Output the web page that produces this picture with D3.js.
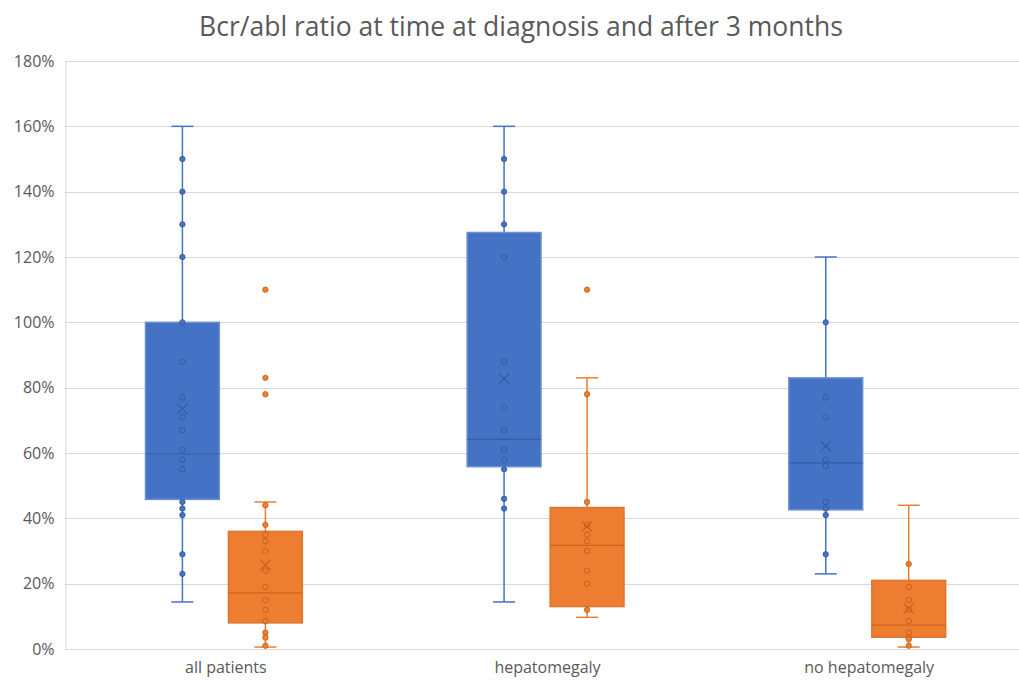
<!DOCTYPE html>
<html>
<head>
<meta charset="utf-8">
<script src="https://cdn.jsdelivr.net/npm/d3@7"></script>
<style>
  body { margin: 0; background: #fff; }
  svg { display: block; font-family: "Open Sans", "Liberation Sans", sans-serif; }
</style>
</head>
<body>
<div id="chart"></div>
<script>
// chart values (percent)
const categories = ["all patients", "hepatomegaly", "no hepatomegaly"];
const seriesNames = ["at diagnosis", "after 3 months"];
const yTicks = [0, 20, 40, 60, 80, 100, 120, 140, 160, 180];

// box statistics per category: [min, q1, median, q3, max]
const diagBox = [
  [14.4, 45.8, 59.7, 100, 160],
  [14.4, 55.8, 64.2, 127.5, 160],
  [23, 42.6, 57, 83, 120]
];
const monthBox = [
  [0.6, 8, 17.2, 36, 45],
  [9.7, 13, 31.7, 43.3, 83],
  [0.6, 3.6, 7.3, 21, 44]
];
const diagMean = [73.5, 82.8, 62.1];
const monthMean = [25.7, 37.5, 12.4];

// visible data points
const diagPoints = [
  [150, 140, 130, 120, 100, 88, 77, 71, 67, 61, 58, 55, 45, 43, 41, 29, 23],
  [150, 140, 130, 120, 88, 74, 67, 61, 58, 55, 46, 43],
  [100, 77, 71, 58, 56, 45, 43, 41, 29]
];
const monthPoints = [
  [110, 83, 78, 44, 38, 35, 33, 30, 24, 19, 15, 12, 8.5, 5, 3.5, 1],
  [110, 78, 45, 38, 35, 33, 30, 24, 20, 12],
  [26, 19, 15, 12, 8.5, 5, 3.5, 3, 1]
];

const width = 1019;
const height = 682;
const margin = { left: 65, right: -11, top: 61, bottom: 33 };

const styles = [
  { fill: "#4472c4", edge: "#6a8fd2", line: "#4472c4", dot: "#2f5597", mid: "#2f5597" },
  { fill: "#ed7d31", edge: "#e0742c", line: "#ed7d31", dot: "#c55a11", mid: "#c55a11" }
];

const svg = d3
  .select("#chart")
  .append("svg")
  .attr("width", width)
  .attr("height", height);

const x = d3
  .scaleBand()
  .domain(categories)
  .range([margin.left, width - margin.right]);

const bw = x.bandwidth();
const xs = d3
  .scaleBand()
  .domain(seriesNames)
  .range([bw * 0.236, bw * 0.752]);

const y = d3
  .scaleLinear()
  .domain([0, 180])
  .range([height - margin.bottom, margin.top]);

// gridlines
svg
  .append("g")
  .selectAll("line")
  .data(yTicks)
  .enter()
  .append("line")
  .attr("x1", margin.left)
  .attr("x2", width)
  .attr("y1", (d) => Math.round(y(d)) + 0.5)
  .attr("y2", (d) => Math.round(y(d)) + 0.5)
  .attr("stroke", "#d9d9d9")
  .attr("stroke-width", 1);

// y axis
const yAxis = svg
  .append("g")
  .attr("transform", `translate(${margin.left + 0.5},0)`)
  .call(
    d3.axisLeft(y)
      .tickValues(yTicks)
      .tickSize(0)
      .tickPadding(11)
      .tickFormat((d) => d + "%")
  )
  .attr("font-family", null);
yAxis.select(".domain").attr("stroke", "#d9d9d9");
yAxis
  .selectAll("text")
  .attr("fill", "#595959")
  .style("font-size", "16px");

// x axis labels
const xAxis = svg
  .append("g")
  .attr("transform", `translate(0,${height - margin.bottom})`)
  .call(d3.axisBottom(x).tickSize(0).tickPadding(13))
  .attr("font-family", null);
xAxis.select(".domain").remove();
xAxis
  .selectAll("text")
  .attr("fill", "#595959")
  .style("font-size", "16px");

// title
svg
  .append("text")
  .attr("x", 521)
  .attr("y", 36)
  .attr("text-anchor", "middle")
  .attr("fill", "#595959")
  .style("font-size", "26.5px")
  .text("Bcr/abl ratio at time at diagnosis and after 3 months");

const series = [
  { name: seriesNames[0], box: diagBox, mean: diagMean, points: diagPoints },
  { name: seriesNames[1], box: monthBox, mean: monthMean, points: monthPoints }
];

const boxW = xs.bandwidth() * 0.89;
const capW = 22;

series.forEach((s, si) => {
  const st = styles[si];
  categories.forEach((cat, ci) => {
    const [mn, q1, md, q3, mx] = s.box[ci];
    const cx = x(cat) + xs(s.name) + xs.bandwidth() / 2;
    const g = svg.append("g");

    // whiskers
    g.append("line")
      .attr("x1", cx).attr("x2", cx)
      .attr("y1", y(mx)).attr("y2", y(q3))
      .attr("stroke", st.line).attr("stroke-width", 1.5);
    g.append("line")
      .attr("x1", cx).attr("x2", cx)
      .attr("y1", y(q1)).attr("y2", y(mn))
      .attr("stroke", st.line).attr("stroke-width", 1.5);
    [mn, mx].forEach((v) => {
      g.append("line")
        .attr("x1", cx - capW / 2).attr("x2", cx + capW / 2)
        .attr("y1", y(v)).attr("y2", y(v))
        .attr("stroke", st.line).attr("stroke-width", 1.5);
    });

    // box
    g.append("rect")
      .attr("x", cx - boxW / 2)
      .attr("y", y(q3))
      .attr("width", boxW)
      .attr("height", y(q1) - y(q3))
      .attr("fill", st.fill)
      .attr("stroke", st.edge)
      .attr("stroke-width", 1.5);

    // median
    g.append("line")
      .attr("x1", cx - boxW / 2).attr("x2", cx + boxW / 2)
      .attr("y1", y(md)).attr("y2", y(md))
      .attr("stroke", st.mid).attr("stroke-opacity", 0.7).attr("stroke-width", 1.2);

    // points
    g.selectAll("circle")
      .data(s.points[ci])
      .enter()
      .append("circle")
      .attr("cx", cx)
      .attr("cy", (d) => y(d))
      .attr("r", 2.7)
      .attr("fill", st.fill)
      .attr("stroke", st.dot)
      .attr("stroke-opacity", 0.8)
      .attr("stroke-width", 1);

    // mean marker
    const my = y(s.mean[ci]);
    const m = 5;
    g.append("path")
      .attr("d", `M${cx - m},${my - m}L${cx + m},${my + m}M${cx - m},${my + m}L${cx + m},${my - m}`)
      .attr("stroke", st.mid)
      .attr("stroke-opacity", 0.8)
      .attr("stroke-width", 1.2)
      .attr("fill", "none");
  });
});
</script>
</body>
</html>
